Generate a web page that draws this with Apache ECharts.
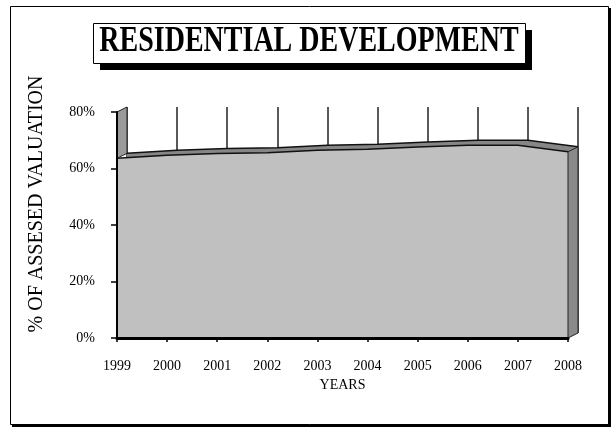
<!DOCTYPE html>
<html>
<head>
<meta charset="utf-8">
<script src="https://cdn.jsdelivr.net/npm/echarts@6/dist/echarts.min.js"></script>
<style>
html,body{margin:0;padding:0;background:#fff;}
#c{width:616px;height:429px;}
</style>
</head>
<body>
<div id="c"></div>
<script>
var years = ['1999','2000','2001','2002','2003','2004','2005','2006','2007','2008'];
var residentialShare = [63.6, 64.7, 65.3, 65.6, 66.5, 66.8, 67.6, 68.2, 68.2, 65.9];
var yTicks = [0, 20, 40, 60, 80];

var FONT = "'Liberation Serif','Times New Roman',serif";
var chart = echarts.init(document.getElementById('c'), null, {renderer:'canvas'});

var option = {
  animation: false,
  backgroundColor: '#fff',
  grid: [
    {left: 117, top: 112, width: 451, height: 226},
    {left: 127, top: 107, width: 451, height: 226}
  ],
  xAxis: [
    {
      gridIndex: 0, type: 'category', data: years, boundaryGap: false, z: 10,
      name: 'YEARS', nameLocation: 'middle', nameGap: 38,
      nameTextStyle: {fontFamily: FONT, fontSize: 14, color: '#000'},
      axisLine: {lineStyle: {color: '#000', width: 3}},
      axisTick: {show: true, interval: 0, length: 4, lineStyle: {color: '#000', width: 1.5}},
      axisLabel: {interval: 0, margin: 21, fontFamily: FONT, fontSize: 14, color: '#000'},
      splitLine: {show: false}
    },
    {
      gridIndex: 1, type: 'category', data: years, boundaryGap: false, z: 0,
      axisLine: {show: false}, axisTick: {show: false}, axisLabel: {show: false},
      splitLine: {show: true, interval: 0, lineStyle: {color: '#222', width: 1.5}}
    }
  ],
  yAxis: [
    {
      gridIndex: 0, type: 'value', min: yTicks[0], max: yTicks[yTicks.length-1], interval: 20, z: 10,
      axisLine: {show: true, lineStyle: {color: '#000', width: 2}},
      axisTick: {show: true, inside: false, length: 6, lineStyle: {color: '#000', width: 1.5}},
      axisLabel: {margin: 22, formatter: '{value}%', fontFamily: FONT, fontSize: 14, color: '#000'},
      splitLine: {show: false}
    },
    {
      gridIndex: 1, type: 'value', min: yTicks[0], max: yTicks[yTicks.length-1], interval: 20,
      axisLine: {show: false}, axisTick: {show: false}, axisLabel: {show: false},
      splitLine: {show: false}
    }
  ],
  series: [
    {
      type: 'line', xAxisIndex: 1, yAxisIndex: 1, data: residentialShare, z: 1,
      symbol: 'none', smooth: false,
      lineStyle: {color: '#111', width: 1.5},
      areaStyle: {color: '#868686', opacity: 1}
    },
    {
      type: 'line', xAxisIndex: 0, yAxisIndex: 0, data: residentialShare, z: 3,
      symbol: 'none', smooth: false,
      lineStyle: {color: '#111', width: 1.5},
      areaStyle: {color: '#c0c0c0', opacity: 1}
    }
  ]
};
chart.setOption(option);

// decorative 3D side walls, computed from the library's scales
var n = years.length;
var f0 = chart.convertToPixel({gridIndex: 0}, [years[0], residentialShare[0]]);
var fTop = chart.convertToPixel({gridIndex: 0}, [years[0], yTicks[yTicks.length-1]]);
var b0 = chart.convertToPixel({gridIndex: 1}, [years[0], residentialShare[0]]);
var bTop = chart.convertToPixel({gridIndex: 1}, [years[0], yTicks[yTicks.length-1]]);
var fN = chart.convertToPixel({gridIndex: 0}, [years[n-1], residentialShare[n-1]]);
var fNBase = chart.convertToPixel({gridIndex: 0}, [years[n-1], 0]);
var bN = chart.convertToPixel({gridIndex: 1}, [years[n-1], residentialShare[n-1]]);
var bNBase = chart.convertToPixel({gridIndex: 1}, [years[n-1], 0]);

chart.setOption({
  graphic: [
    {type: 'rect', z: -11, shape: {x: 12, y: 8, width: 599, height: 419}, style: {fill: '#000'}},
    {type: 'rect', z: -10, shape: {x: 10.5, y: 6.5, width: 598, height: 418},
      style: {fill: '#fff', stroke: '#000', lineWidth: 1}},
    {type: 'rect', z: 19, shape: {x: 100, y: 30, width: 432, height: 40}, style: {fill: '#000'}},
    {type: 'rect', z: 20, shape: {x: 93.5, y: 23.5, width: 432, height: 40},
      style: {fill: '#fff', stroke: '#000', lineWidth: 1}},
    {type: 'text', z: 21, x: 309, y: 42, scaleX: 0.8,
      style: {text: 'RESIDENTIAL DEVELOPMENT', font: 'bold 35px ' + FONT, fill: '#000', textAlign: 'center', textVerticalAlign: 'middle'}},
    {type: 'text', z: 21, x: 37, y: 204, rotation: Math.PI/2,
      style: {text: '% OF ASSESED VALUATION', font: '20px ' + FONT, fill: '#000', textAlign: 'center', textVerticalAlign: 'middle'}},
    {type: 'polygon', z: 5,
      shape: {points: [[fTop[0], fTop[1]], [bTop[0], bTop[1]], [b0[0], b0[1]], [f0[0], f0[1]]]},
      style: {fill: '#9a9a9a', stroke: '#222', lineWidth: 1}},
    {type: 'polygon', z: 5,
      shape: {points: [[fN[0], fN[1]], [bN[0], bN[1]], [bNBase[0], bNBase[1]], [fNBase[0], fNBase[1]]]},
      style: {fill: '#8a8a8a', stroke: '#222', lineWidth: 1}}
  ]
});
</script>
</body>
</html>
